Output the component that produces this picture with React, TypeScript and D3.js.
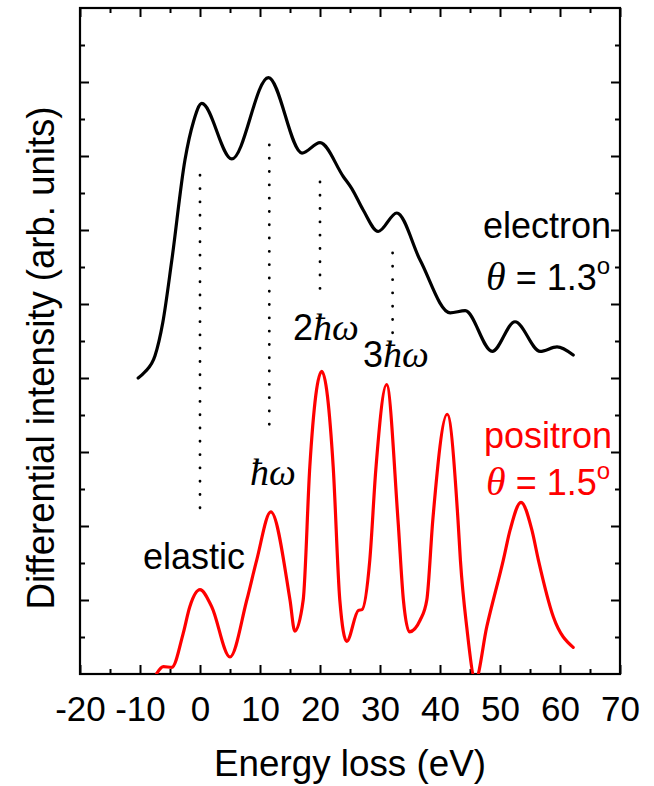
import React, { useEffect, useRef } from 'react';
import * as d3 from 'd3';

// energy loss (eV) / intensity (arb. units, one major tick = 1)
const electronE = [-10.3, -9.2, -7.5, -6.2, -4.7, -2.5, -1.1, 0.3, 5.3, 11.4, 17.0, 20.0, 23.9, 25.3, 27.2, 29.7, 32.8, 36.7, 41.7, 44.2, 48.7, 52.5, 56.7, 59.5, 62.2];
const electronV = [4.0, 4.08, 4.3, 4.75, 5.59, 6.95, 7.46, 7.71, 6.96, 8.06, 7.04, 7.18, 6.72, 6.56, 6.27, 5.98, 6.23, 5.59, 4.88, 4.91, 4.36, 4.76, 4.36, 4.42, 4.31];

const positronE = [-7.2, -6.1, -4.7, -2.8, -1.7, 0, 1.95, 5.0, 7.8, 9.45, 11.8, 15.0, 15.8, 17.2, 18.3, 20.3, 22.2, 23.3, 24.45, 26.4, 27.0, 28.3, 29.3, 31.1, 33.0, 33.9, 34.9, 36.7, 37.8, 38.8, 41.2, 43.0, 43.4, 44.45, 45.9, 47.8, 50.55, 51.7, 53.5, 55.3, 56.4, 58.9, 62.2];
const positronV = [0.01, 0.1, 0.09, 0.55, 0.91, 1.14, 0.91, 0.23, 1.0, 1.54, 2.19, 1.0, 0.58, 1.0, 2.8, 4.09, 2.8, 1.0, 0.44, 0.86, 0.87, 1.54, 2.76, 3.91, 2.08, 1.0, 0.57, 0.73, 1.0, 2.08, 3.51, 2.08, 1.54, 0.64, -0.08, 0.64, 1.54, 1.95, 2.32, 1.95, 1.54, 0.77, 0.36];

// dotted guide lines: position and extent
const guideE = [0, 11.55, 20, 32.1];
const guideTop = [6.74, 7.15, 6.65, 5.69];
const guideBottom = [2.11, 3.23, 5.16, 4.55];

const xMajor = [-20, -10, 0, 10, 20, 30, 40, 50, 60, 70];
const xMinor = [-15, -5, 5, 15, 25, 35, 45, 55, 65];
const yMajor = [1, 2, 3, 4, 5, 6, 7, 8];
const yMinor = [0.5, 1.5, 2.5, 3.5, 4.5, 5.5, 6.5, 7.5, 8.5];

const W = 654;
const H = 786;
const margin = { left: 80, right: 34, top: 8, bottom: 112 };
const font = '"Liberation Sans", Arial, Helvetica, sans-serif';
const serif = '"Liberation Serif", "Times New Roman", serif';

export default function App() {
	const ref = useRef<SVGSVGElement>(null);

	useEffect(() => {
		const svg = d3.select(ref.current);
		svg.selectAll('*').remove();

		const x = d3.scaleLinear().domain([-20, 70]).range([margin.left, W - margin.right]);
		const y = d3.scaleLinear().domain([0, 9]).range([H - margin.bottom, margin.top]);
		const x0 = x.range()[0], x1 = x.range()[1];
		const y0 = y.range()[0], y1 = y.range()[1];

		svg.append('clipPath').attr('id', 'plot').append('rect')
			.attr('x', x0).attr('y', y1).attr('width', x1 - x0).attr('height', y0 - y1);

		// ticks on all four sides, pointing inward
		const addAxis = (axis: any, tx: number, ty: number) => {
			const g = svg.append('g').attr('transform', `translate(${tx},${ty})`).call(axis);
			g.select('.domain').remove();
			g.selectAll('line').attr('stroke', '#000').attr('stroke-width', 2);
			return g;
		};
		const bottom = addAxis(d3.axisBottom(x).tickValues(xMajor).tickSize(-9).tickPadding(22).tickFormat((d: any) => String(d)), 0, y0);
		bottom.selectAll('text').attr('font-size', 35).attr('font-family', font).attr('fill', '#000');
		addAxis(d3.axisBottom(x).tickValues(xMinor).tickSize(-5).tickFormat(() => ''), 0, y0);
		addAxis(d3.axisTop(x).tickValues(xMajor).tickSize(-9).tickFormat(() => ''), 0, y1);
		addAxis(d3.axisTop(x).tickValues(xMinor).tickSize(-5).tickFormat(() => ''), 0, y1);
		addAxis(d3.axisLeft(y).tickValues(yMajor).tickSize(-9).tickFormat(() => ''), x0, 0);
		addAxis(d3.axisLeft(y).tickValues(yMinor).tickSize(-5).tickFormat(() => ''), x0, 0);
		addAxis(d3.axisRight(y).tickValues(yMajor).tickSize(-9).tickFormat(() => ''), x1, 0);
		addAxis(d3.axisRight(y).tickValues(yMinor).tickSize(-5).tickFormat(() => ''), x1, 0);

		svg.append('rect')
			.attr('x', x0).attr('y', y1).attr('width', x1 - x0).attr('height', y0 - y1)
			.attr('fill', 'none').attr('stroke', '#000').attr('stroke-width', 2.2);

		// dotted guides
		guideE.forEach((e, i) => {
			svg.append('line')
				.attr('x1', x(e)).attr('x2', x(e))
				.attr('y1', y(guideTop[i])).attr('y2', y(guideBottom[i]))
				.attr('stroke', '#000').attr('stroke-width', 2.8)
				.attr('stroke-linecap', 'round').attr('stroke-dasharray', '0.1 13.2');
		});

		const line = d3.line<number>()
			.x((d) => x(d))
			.curve(d3.curveMonotoneX);

		svg.append('path')
			.attr('d', line.y((d, i) => y(electronV[i]))(electronE))
			.attr('fill', 'none').attr('stroke', '#000').attr('stroke-width', 3.2)
			.attr('stroke-linejoin', 'round').attr('stroke-linecap', 'round');

		svg.append('path')
			.attr('clip-path', 'url(#plot)')
			.attr('d', line.y((d, i) => y(positronV[i]))(positronE))
			.attr('fill', 'none').attr('stroke', '#ff0000').attr('stroke-width', 3.2)
			.attr('stroke-linejoin', 'round').attr('stroke-linecap', 'round');
	}, []);

	const theta = (label: string, tx: number, ty: number, color: string) => (
		<text x={tx} y={ty} fontSize={36} fontFamily={font} fill={color}>
			<tspan fontFamily={serif} fontStyle="italic" fontSize={40}>θ</tspan>
			<tspan> = {label}</tspan>
			<tspan fontSize={24} dy={-16}>o</tspan>
		</text>
	);
	const hw = (prefix: string, tx: number, ty: number) => (
		<text x={tx} y={ty} fontSize={36} fontFamily={font} fill="#000">
			{prefix}
			<tspan fontFamily={serif} fontStyle="italic" fontSize={38}>ħω</tspan>
		</text>
	);

	return (
		<div style={{ position: 'absolute', left: 0, top: 0 }}>
			<svg ref={ref} width={W} height={H} style={{ position: 'absolute', left: 0, top: 0 }} />
			<svg width={W} height={H} style={{ position: 'absolute', left: 0, top: 0 }}>
				<text x={350} y={776} fontSize={37} fontFamily={font} textAnchor="middle" textLength={272} lengthAdjust="spacingAndGlyphs">Energy loss (eV)</text>
				<text transform="translate(54,358) rotate(-90)" fontSize={38} fontFamily={font} textAnchor="middle" textLength={503} lengthAdjust="spacingAndGlyphs">
					Differential intensity (arb. units)
				</text>
				<text x={483} y={238} fontSize={36} fontFamily={font}>electron</text>
				{theta('1.3', 486, 290, '#000')}
				<text x={484} y={448} fontSize={36} fontFamily={font} fill="#ff0000">positron</text>
				{theta('1.5', 486, 495, '#ff0000')}
				<text x={143} y={569} fontSize={36} fontFamily={font}>elastic</text>
				{hw('', 250, 485)}
				{hw('2', 293, 340)}
				{hw('3', 363, 367)}
			</svg>
		</div>
	);
}
